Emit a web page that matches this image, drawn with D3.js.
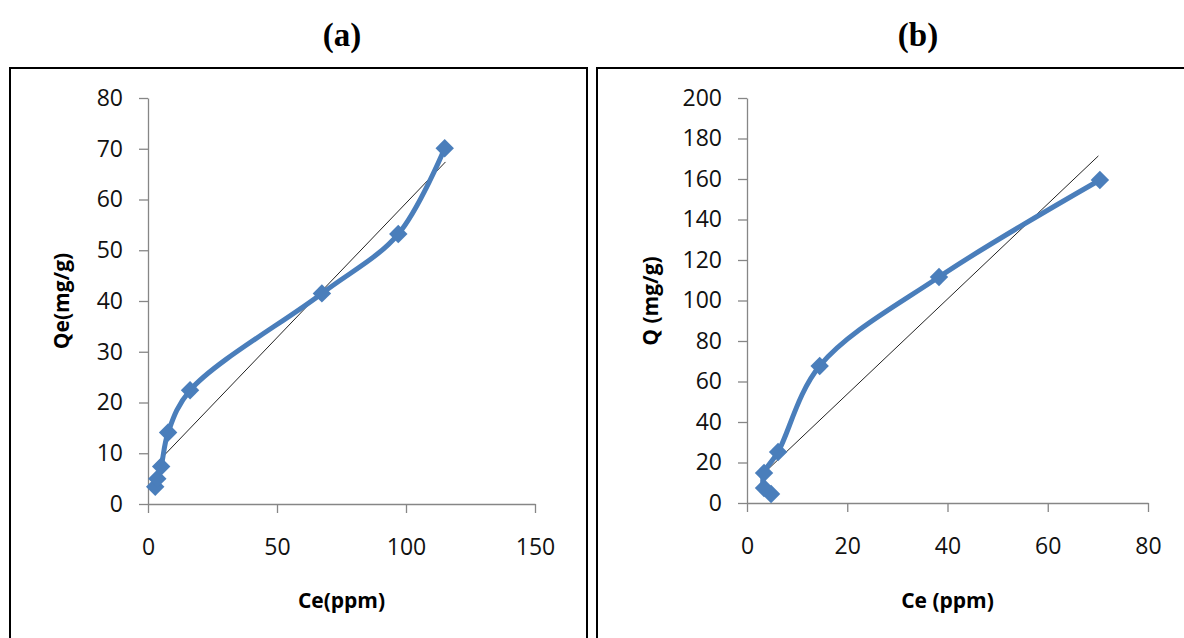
<html>
    <head>
        <title>Isotherms</title>
        <style>
            body { margin: 0; background: #fff; }
            .tick text { font-family: "Open Sans", sans-serif; font-size: 23px; fill: #111; }
            .axis path, .axis line { stroke: #868686; stroke-width: 1.3; }
        </style>
    </head>

    <body>
        <div id="svghere"></div>

        <script src="https://d3js.org/d3.v7.min.js"></script>
        <script>
        // panel (a)
        var ceA = [2.8, 3.6, 5.1, 7.8, 16.3, 67.4, 97, 115];
        var qeA = [3.4, 5.0, 7.4, 14.1, 22.4, 41.5, 53.2, 70.1];
        var trendA = [[2.7, 7.7], [115.3, 67.4]];
        var xTicksA = [0, 50, 100, 150];
        var yTicksA = [0, 10, 20, 30, 40, 50, 60, 70, 80];

        // panel (b)
        var ceB = [4.8, 3.4, 3.4, 6.2, 14.5, 38.3, 70.4];
        var qB = [4.4, 7.4, 14.8, 25.2, 67.7, 111.6, 159.5];
        var trendB = [[3.4, 14.8], [70.1, 171.4]];
        var xTicksB = [0, 20, 40, 60, 80];
        var yTicksB = [0, 20, 40, 60, 80, 100, 120, 140, 160, 180, 200];

        var blue = '#4a7ebb';

        var svg = d3.select('#svghere')
            .append('svg')
            .attr('width', 1184)
            .attr('height', 638);

        svg.append('rect').attr('width', 1184).attr('height', 638).attr('fill', '#fff');

        // frames round each panel
        svg.append('rect').attr('x', 10).attr('y', 68).attr('width', 577).attr('height', 620)
            .attr('fill', 'none').attr('stroke', '#000').attr('stroke-width', 2);
        svg.append('rect').attr('x', 597).attr('y', 68).attr('width', 620).attr('height', 620)
            .attr('fill', 'none').attr('stroke', '#000').attr('stroke-width', 2);

        function panel(o) {
            var x = d3.scaleLinear().domain(o.xd).range(o.xr);
            var y = d3.scaleLinear().domain(o.yd).range(o.yr);

            svg.append('g')
                .attr('class', 'axis')
                .attr('transform', 'translate(0,' + o.yr[0] + ')')
                .call(d3.axisBottom(x).tickValues(o.xt).tickSize(9).tickSizeOuter(0).tickPadding(26));

            svg.append('g')
                .attr('class', 'axis')
                .attr('transform', 'translate(' + o.xr[0] + ',0)')
                .call(d3.axisLeft(y).tickValues(o.yt).tickSize(9).tickSizeOuter(0).tickPadding(16));

            // trend line
            svg.append('line')
                .attr('x1', x(o.trend[0][0])).attr('y1', y(o.trend[0][1]))
                .attr('x2', x(o.trend[1][0])).attr('y2', y(o.trend[1][1]))
                .attr('stroke', '#222').attr('stroke-width', 1);

            var pts = o.xs.map(function(d, i) { return [d, o.ys[i]]; });

            var line = d3.line()
                .x(function(d) { return x(d[0]); })
                .y(function(d) { return y(d[1]); })
                .curve(d3.curveCatmullRom.alpha(0.5));

            svg.append('path')
                .attr('d', line(pts))
                .attr('fill', 'none')
                .attr('stroke', blue)
                .attr('stroke-width', 5)
                .attr('stroke-linejoin', 'round');

            svg.selectAll(null)
                .data(pts)
                .enter()
                .append('path')
                .attr('d', d3.symbol().type(d3.symbolSquare).size(170))
                .attr('transform', function(d) {
                    return 'translate(' + x(d[0]) + ',' + y(d[1]) + ') rotate(45)';
                })
                .attr('fill', blue);

            svg.append('text')
                .attr('x', (o.xr[0] + o.xr[1]) / 2)
                .attr('y', 608)
                .attr('text-anchor', 'middle')
                .style('font-family', '"Open Sans", sans-serif')
                .style('font-weight', 'bold')
                .style('font-size', '21px')
                .text(o.xlabel);

            svg.append('text')
                .attr('transform', 'translate(' + o.ylx + ',301) rotate(-90)')
                .attr('text-anchor', 'middle')
                .style('font-family', '"Open Sans", sans-serif')
                .style('font-weight', 'bold')
                .style('font-size', '21px')
                .text(o.ylabel);

            svg.append('text')
                .attr('x', o.tx)
                .attr('y', 46)
                .attr('text-anchor', 'middle')
                .style('font-family', '"Liberation Serif", serif')
                .style('font-weight', 'bold')
                .style('font-size', '33px')
                .text(o.title);
        }

        panel({
            xs: ceA, ys: qeA, trend: trendA,
            xd: [0, 150], yd: [0, 80], xr: [148, 535], yr: [504, 98],
            xt: xTicksA, yt: yTicksA,
            xlabel: 'Ce(ppm)', ylabel: 'Qe(mg/g)', ylx: 69,
            title: '(a)', tx: 342
        });

        panel({
            xs: ceB, ys: qB, trend: trendB,
            xd: [0, 80], yd: [0, 200], xr: [747, 1148], yr: [503, 98],
            xt: xTicksB, yt: yTicksB,
            xlabel: 'Ce (ppm)', ylabel: 'Q (mg/g)', ylx: 658,
            title: '(b)', tx: 918
        });
        </script>
    </body>
</html>
